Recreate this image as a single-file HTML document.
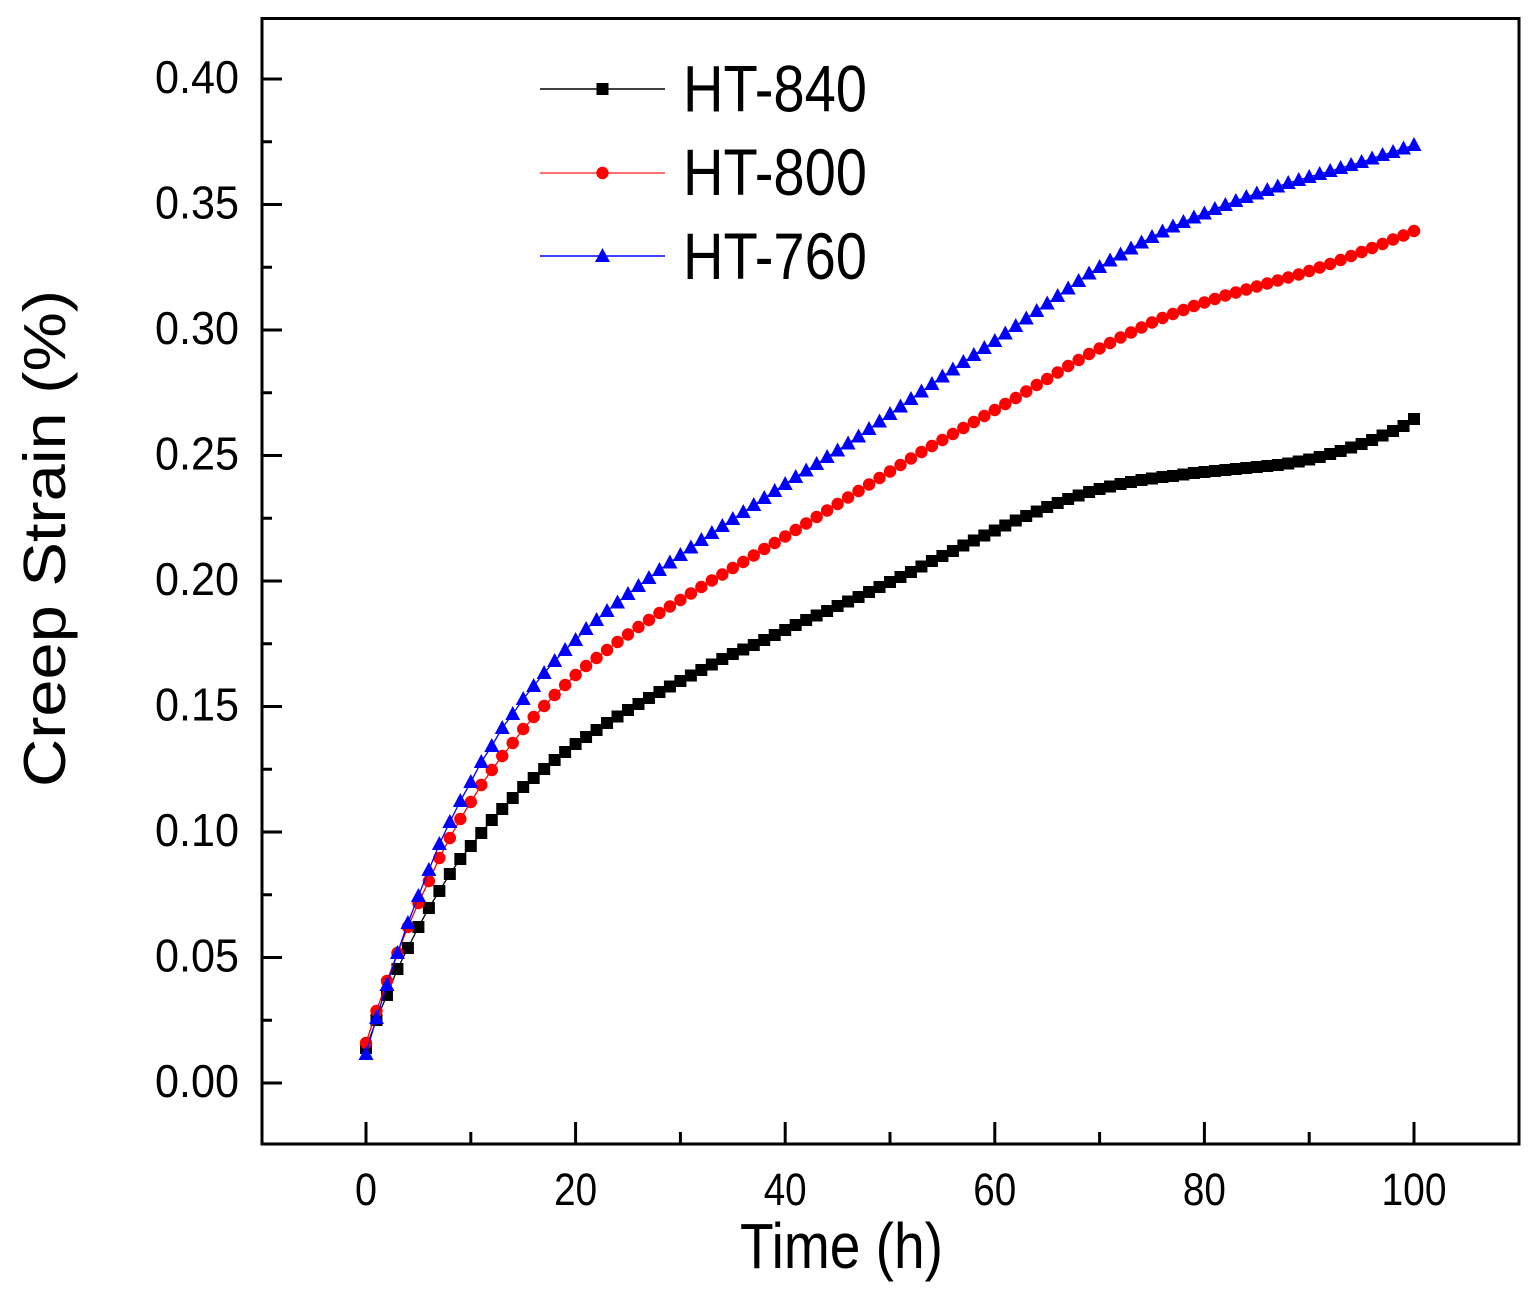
<!DOCTYPE html>
<html>
<head>
<meta charset="utf-8">
<style>
html,body{margin:0;padding:0;background:#fff;}
svg{display:block;}
text{font-family:"Liberation Sans",Arial,sans-serif;fill:#000;}
</style>
</head>
<body>
<svg width="1539" height="1299" viewBox="0 0 1539 1299" xmlns="http://www.w3.org/2000/svg">
<defs>
  <marker id="sq" markerUnits="userSpaceOnUse" markerWidth="1" markerHeight="1" refX="0" refY="0" overflow="visible">
    <rect x="-0.5725" y="-6" width="1.145" height="12" fill="#000" stroke="none"/>
  </marker>
  <marker id="ci" markerUnits="userSpaceOnUse" markerWidth="1" markerHeight="1" refX="0" refY="0" overflow="visible">
    <ellipse cx="0" cy="0" rx="0.5916" ry="6.2" fill="#ff0000" stroke="none"/>
  </marker>
  <marker id="tr" markerUnits="userSpaceOnUse" markerWidth="1" markerHeight="1" refX="0" refY="0" overflow="visible">
    <polygon points="0,-8 0.7156,6 -0.7156,6" fill="#0000ff" stroke="none"/>
  </marker>
</defs>

<!-- frame -->
<rect x="262" y="18.5" width="1257" height="1125.5" fill="none" stroke="#000" stroke-width="3"/>

<!-- x ticks -->
<g stroke="#000" stroke-width="3">
  <line x1="366" y1="1144" x2="366" y2="1122"/>
  <line x1="470.8" y1="1144" x2="470.8" y2="1132"/>
  <line x1="575.6" y1="1144" x2="575.6" y2="1122"/>
  <line x1="680.4" y1="1144" x2="680.4" y2="1132"/>
  <line x1="785.2" y1="1144" x2="785.2" y2="1122"/>
  <line x1="890" y1="1144" x2="890" y2="1132"/>
  <line x1="994.8" y1="1144" x2="994.8" y2="1122"/>
  <line x1="1099.6" y1="1144" x2="1099.6" y2="1132"/>
  <line x1="1204.4" y1="1144" x2="1204.4" y2="1122"/>
  <line x1="1309.2" y1="1144" x2="1309.2" y2="1132"/>
  <line x1="1414" y1="1144" x2="1414" y2="1122"/>
</g>

<!-- y ticks -->
<g stroke="#000" stroke-width="3">
  <line x1="262" y1="1083" x2="282" y2="1083"/>
  <line x1="262" y1="1020.25" x2="272" y2="1020.25"/>
  <line x1="262" y1="957.5" x2="282" y2="957.5"/>
  <line x1="262" y1="894.75" x2="272" y2="894.75"/>
  <line x1="262" y1="832" x2="282" y2="832"/>
  <line x1="262" y1="769.25" x2="272" y2="769.25"/>
  <line x1="262" y1="706.5" x2="282" y2="706.5"/>
  <line x1="262" y1="643.75" x2="272" y2="643.75"/>
  <line x1="262" y1="581" x2="282" y2="581"/>
  <line x1="262" y1="518.25" x2="272" y2="518.25"/>
  <line x1="262" y1="455.5" x2="282" y2="455.5"/>
  <line x1="262" y1="392.75" x2="272" y2="392.75"/>
  <line x1="262" y1="330" x2="282" y2="330"/>
  <line x1="262" y1="267.25" x2="272" y2="267.25"/>
  <line x1="262" y1="204.5" x2="282" y2="204.5"/>
  <line x1="262" y1="141.75" x2="272" y2="141.75"/>
  <line x1="262" y1="79" x2="282" y2="79"/>
</g>

<!-- y tick labels -->
<g font-size="46" text-anchor="end">
  <text x="239" y="1097" textLength="84" lengthAdjust="spacingAndGlyphs">0.00</text>
  <text x="239" y="971.5" textLength="84" lengthAdjust="spacingAndGlyphs">0.05</text>
  <text x="239" y="846" textLength="84" lengthAdjust="spacingAndGlyphs">0.10</text>
  <text x="239" y="720.5" textLength="84" lengthAdjust="spacingAndGlyphs">0.15</text>
  <text x="239" y="595" textLength="84" lengthAdjust="spacingAndGlyphs">0.20</text>
  <text x="239" y="469.5" textLength="84" lengthAdjust="spacingAndGlyphs">0.25</text>
  <text x="239" y="344" textLength="84" lengthAdjust="spacingAndGlyphs">0.30</text>
  <text x="239" y="218.5" textLength="84" lengthAdjust="spacingAndGlyphs">0.35</text>
  <text x="239" y="93" textLength="84" lengthAdjust="spacingAndGlyphs">0.40</text>
</g>

<!-- x tick labels -->
<g font-size="45" text-anchor="middle">
  <text x="366" y="1205" textLength="22" lengthAdjust="spacingAndGlyphs">0</text>
  <text x="575.6" y="1205" textLength="43" lengthAdjust="spacingAndGlyphs">20</text>
  <text x="785.2" y="1205" textLength="43" lengthAdjust="spacingAndGlyphs">40</text>
  <text x="994.8" y="1205" textLength="43" lengthAdjust="spacingAndGlyphs">60</text>
  <text x="1204.4" y="1205" textLength="43" lengthAdjust="spacingAndGlyphs">80</text>
  <text x="1414" y="1205" textLength="65" lengthAdjust="spacingAndGlyphs">100</text>
</g>

<!-- axis titles -->
<text x="841.5" y="1268" font-size="64" text-anchor="middle" textLength="203" lengthAdjust="spacingAndGlyphs">Time (h)</text>
<text transform="translate(65,538.5) scale(0.9,1) rotate(-90)" x="0" y="0" font-size="66" text-anchor="middle" textLength="497" lengthAdjust="spacingAndGlyphs">Creep Strain (%)</text>

<!-- data series -->
<g transform="translate(366,0) scale(10.48,1)">
  <polyline fill="none" stroke="#000" stroke-width="1.3" vector-effect="non-scaling-stroke" marker-start="url(#sq)" marker-mid="url(#sq)" marker-end="url(#sq)"
   points="0,1048 1,1020 2,995 3,969 4,948 5,927 6,908 7,891 8,874 9,859 10,846 11,833 12,820 13,809 14,798 15,787 16,778 17,769 18,760 19,752 20,744 21,737 22,730 23,723 24,716.5 25,710 26,704 27,698 28,692 29,686.5 30,681 31,675.5 32,670 33,664.5 34,659 35,654 36,649.5 37,645 38,640 39,635 40,630 41,625 42,620 43,615.5 44,611 45,606 46,601.5 47,597 48,592 49,587 50,582 51,577 52,572 53,566.5 54,561 55,556 56,551 57,545.5 58,540.5 59,535.5 60,530.5 61,525.5 62,520.5 63,516 64,511.5 65,507 66,503 67,499 68,495.5 69,492 70,489 71,486.5 72,484 73,482 74,480 75,478.5 76,477 77,476 78,474.5 79,473 80,472 81,471 82,470 83,469 84,468 85,467 86,466 87,465 88,463.5 89,461.5 90,459.5 91,457 92,454 93,451 94,447.5 95,444 96,440 97,435.5 98,431 99,426 100,419"/>
  <polyline fill="none" stroke="#ff0000" stroke-width="1.3" vector-effect="non-scaling-stroke" marker-start="url(#ci)" marker-mid="url(#ci)" marker-end="url(#ci)"
   points="0,1043 1,1011 2,981 3,953 4,927 5,903 6,881 7,858 8,838 9,819 10,802 11,785 12,770 13,756 14,743 15,729 16,717 17,706 18,695 19,685 20,675 21,666 22,658 23,650 24,642 25,634.5 26,627 27,620 28,613 29,606.5 30,600 31,593.5 32,587 33,580.5 34,574.5 35,568 36,562 37,555.5 38,549 39,543 40,536.5 41,530 42,523.5 43,517 44,510.5 45,504 46,497.5 47,491 48,484.5 49,478 50,471.5 51,465 52,458.5 53,452 54,446 55,440 56,434 57,428 58,422 59,416 60,410 61,404 62,398 63,391.5 64,385 65,379 66,372.5 67,366 68,360 69,354 70,348.5 71,343 72,337.5 73,332.5 74,327.5 75,322.5 76,318 77,314 78,310 79,306 80,302.5 81,299 82,295.5 83,292.5 84,289.5 85,286.5 86,283.5 87,280.5 88,277.5 89,274.5 90,271 91,267.5 92,264 93,260 94,256 95,252 96,248 97,244 98,239.5 99,235.5 100,231"/>
  <polyline fill="none" stroke="#0000ff" stroke-width="1.3" vector-effect="non-scaling-stroke" marker-start="url(#tr)" marker-mid="url(#tr)" marker-end="url(#tr)"
   points="0,1054 1,1018 2,985 3,953 4,923 5,896 6,870 7,844 8,822 9,801 10,782 11,762 12,746 13,728 14,714 15,699 16,686 17,673 18,661 19,650 20,640 21,629 22,620 23,611 24,602.5 25,594 26,586 27,578 28,570 29,562.5 30,555 31,547.5 32,540 33,533 34,526 35,519 36,512 37,505 38,498 39,491 40,484 41,477 42,470.5 43,464 44,457 45,450.5 46,443.5 47,436.5 48,429 49,421.5 50,414 51,406.5 52,399 53,391.5 54,384 55,376.5 56,369.5 57,362 58,355 59,348 60,341 61,333.5 62,326 63,318.5 64,311 65,303.5 66,296 67,288.5 68,281 69,273.5 70,267 71,260.5 72,254.5 73,248.5 74,242.5 75,237 76,231.5 77,226.5 78,222 79,217.5 80,213.5 81,209 82,205 83,201 84,197 85,193.5 86,190 87,186.5 88,183 89,180 90,177 91,174 92,171 93,168 94,165 95,162 96,158.5 97,155 98,152 99,148.5 100,145"/>
</g>

<!-- legend -->
<g>
  <line x1="540" y1="89" x2="665" y2="89" stroke="#000" stroke-width="1.5"/>
  <rect x="596.5" y="83" width="12" height="12" fill="#000"/>
  <line x1="540" y1="173" x2="665" y2="173" stroke="#ff4040" stroke-width="1.5"/>
  <circle cx="602.5" cy="173" r="6.2" fill="#ff0000"/>
  <line x1="540" y1="256" x2="665" y2="256" stroke="#0000ff" stroke-width="1.5"/>
  <polygon points="602.5,248 610,262 595,262" fill="#0000ff"/>
  <g font-size="65.6">
    <text x="683" y="111.5" textLength="184" lengthAdjust="spacingAndGlyphs">HT-840</text>
    <text x="683" y="195" textLength="184" lengthAdjust="spacingAndGlyphs">HT-800</text>
    <text x="683" y="279" textLength="184" lengthAdjust="spacingAndGlyphs">HT-760</text>
  </g>
</g>
</svg>
</body>
</html>
